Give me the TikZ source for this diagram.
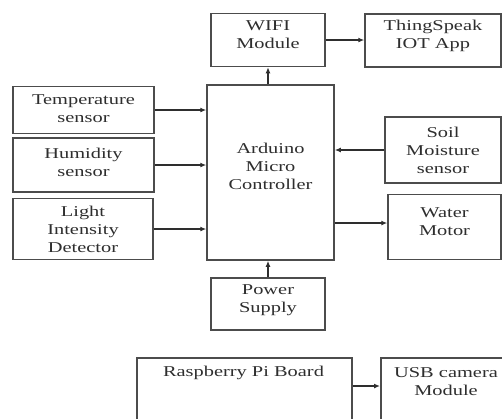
\documentclass[tikz,border=0pt]{standalone}
\usepackage{fontspec}
\setmainfont[FakeStretch=1.36]{Liberation Serif}
\usetikzlibrary{arrows.meta}
\begin{document}
\begin{tikzpicture}[x=1pt,y=-1pt,
  box/.style={draw=black!70, line width=1.5pt, fill=white, inner sep=0pt},
  boxtext/.style={align=center, inner sep=0pt, text=black!82, font=\fontsize{15}{18}\selectfont},
  txt/.style 2 args={label={[boxtext, yshift=#1]center:#2}},
  conn/.style={draw=black!82, line width=1.5pt, -{Latex[length=6pt,width=5pt]}}]
\useasboundingbox (0,0) rectangle (502,418);
\clip (0,0) rectangle (502,418);
\node[box, minimum width=114pt, minimum height=53pt, txt={5pt}{WIFI\\Module}] (wifi) at (268,40) {};
\node[box, minimum width=136pt, minimum height=53pt, txt={5pt}{ThingSpeak\\IOT App}] (thing) at (433,40.5) {};
\node[box, minimum width=127pt, minimum height=175pt, txt={6pt}{Arduino\\Micro\\Controller}] (ard) at (270.5,172.5) {};
\node[box, minimum width=141pt, minimum height=47pt, txt={1pt}{Temperature\\sensor}] (temp) at (83.5,110) {};
\node[box, minimum width=141pt, minimum height=54pt, txt={3pt}{Humidity\\sensor}] (hum) at (83.5,165) {};
\node[box, minimum width=140pt, minimum height=61pt, txt={0pt}{Light\\Intensity\\Detector}] (light) at (83,229) {};
\node[box, minimum width=116pt, minimum height=66pt, txt={0pt}{Soil\\Moisture\\sensor}] (soil) at (443,150) {};
\node[box, minimum width=113pt, minimum height=65pt, txt={5pt}{Water\\Motor}] (water) at (444.5,227) {};
\node[box, minimum width=114pt, minimum height=52pt, txt={4pt}{Power\\Supply}] (power) at (268,304) {};
\node[box, minimum width=215pt, minimum height=93pt, anchor=north west] (rpi) at (136,357) {};
\node[boxtext] (rpitext) at (243.5,373) {Raspberry Pi Board};
\node[box, minimum width=135pt, minimum height=93pt, anchor=north west] (usb) at (380,357) {};
\node[boxtext] (usbtext) at (446,381.5) {USB camera\\Module};
\draw[conn] (temp.east) -- (temp.east -| ard.west);
\draw[conn] (hum.east) -- (hum.east -| ard.west);
\draw[conn] (light.east) -- (light.east -| ard.west);
\draw[conn] (soil.west) -- (soil.west -| ard.east);
\draw[conn] (ard.east |- 0,223) -- (water.west |- 0,223);
\draw[conn] (wifi.south |- ard.north) -- (wifi.south);
\draw[conn] (power.north) -- (power.north |- ard.south);
\draw[conn] (wifi.east) -- (wifi.east -| thing.west);
\draw[conn] (rpi.east |- 0,386) -- (usb.west |- 0,386);
\end{tikzpicture}
\end{document}
